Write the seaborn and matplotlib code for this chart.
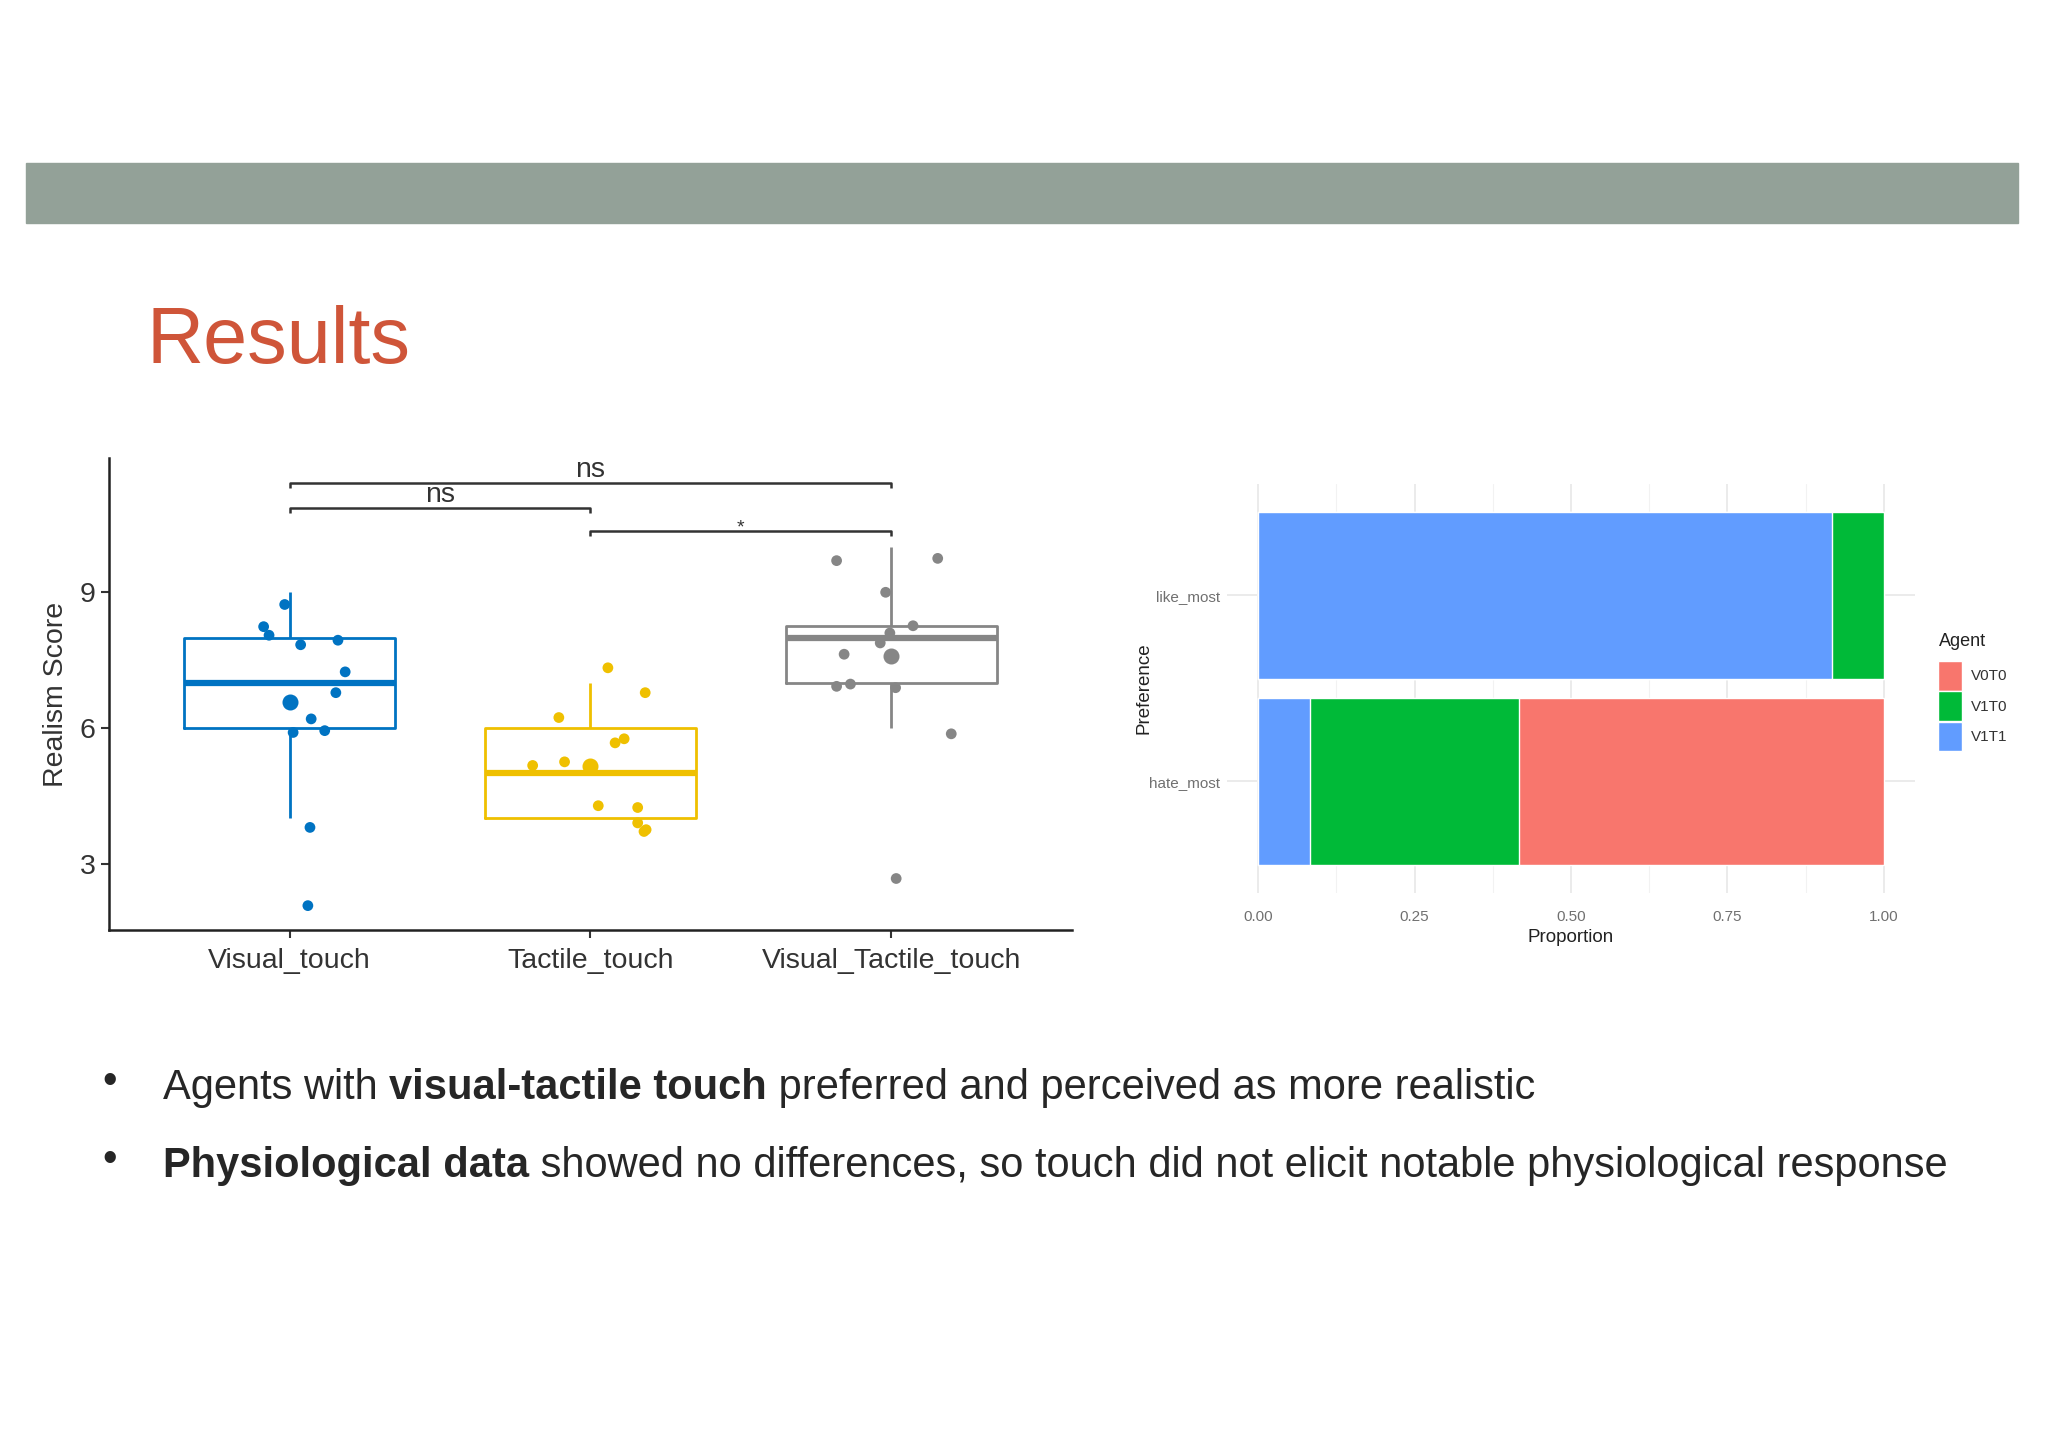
import numpy as np
import pandas as pd
import matplotlib
matplotlib.use("Agg")
import matplotlib.pyplot as plt
from matplotlib.patches import Rectangle, Patch
from matplotlib.text import Annotation
import seaborn as sns

# realism scores per condition (box + mean)
conditions = ["Visual_touch", "Tactile_touch", "Visual_Tactile_touch"]
visual_scores = [9, 8, 8, 8, 8, 7, 7, 6, 6, 6, 4, 2]
tactile_scores = [7, 7, 6, 6, 6, 5, 5, 4, 4, 4, 4, 4]
vt_scores = [10, 10, 9, 8, 8, 8, 8, 7, 7, 7, 6, 3]

# jittered points as drawn (x offset from category, y value)
visual_jit_x = [-0.016, -0.086, -0.068, 0.037, 0.161, 0.185, 0.154, 0.072, 0.012, 0.117, 0.068, 0.061]
visual_jit_y = [8.73, 8.24, 8.05, 7.84, 7.94, 7.24, 6.78, 6.20, 5.90, 5.94, 3.80, 2.07]
tactile_jit_x = [0.058, 0.182, -0.105, 0.082, 0.112, -0.192, -0.086, 0.026, 0.157, 0.157, 0.178, 0.185]
tactile_jit_y = [7.33, 6.78, 6.23, 5.67, 5.76, 5.17, 5.25, 4.28, 4.24, 3.90, 3.71, 3.75]
vt_jit_x = [-0.182, 0.154, -0.019, 0.072, -0.005, -0.037, -0.157, -0.182, -0.136, 0.014, 0.199, 0.016]
vt_jit_y = [9.70, 9.75, 9.00, 8.26, 8.10, 7.88, 7.63, 6.92, 6.97, 6.89, 5.87, 2.67]

# significance brackets
bracket_pairs = [(0, 2), (0, 1), (1, 2)]
bracket_y = [11.42, 10.87, 10.36]
bracket_labels = ["ns", "ns", "*"]

# preference counts
pref_levels = ["like_most", "hate_most"]
agents = ["V0T0", "V1T0", "V1T1"]
like_counts = [0, 1, 11]
hate_counts = [7, 4, 1]

jco = ["#0073C2", "#EFC000", "#868686"]
agent_colors = {"V0T0": "#F8766D", "V1T0": "#00BA38", "V1T1": "#619CFF"}

sns.set_style("white")
plt.rcParams["font.family"] = ["Liberation Sans", "DejaVu Sans"]

fig = plt.figure(figsize=(20.48, 14.48), dpi=100)

# slide header
fig.patches.append(Rectangle((0.0127, 0.846), 0.9727, 0.0414, transform=fig.transFigure,
                             color="#93A198", zorder=0))
fig.text(0.0715, 0.7493, "Results", fontsize=57, color="#CF5539", va="baseline", ha="left")

# ---- left: box plot ----
score_df = pd.DataFrame({
    "Condition": np.repeat(conditions, [len(visual_scores), len(tactile_scores), len(vt_scores)]),
    "Score": visual_scores + tactile_scores + vt_scores,
})
jit_df = pd.DataFrame({
    "Condition": np.repeat(conditions, [len(visual_jit_y), len(tactile_jit_y), len(vt_jit_y)]),
    "dx": visual_jit_x + tactile_jit_x + vt_jit_x,
    "y": visual_jit_y + tactile_jit_y + vt_jit_y,
})
jit_df["x"] = jit_df["Condition"].map({c: i for i, c in enumerate(conditions)}) + jit_df["dx"]

ax1 = fig.add_axes([0.0532, 0.3577, 0.4702, 0.326])
sns.boxplot(data=score_df, x="Condition", y="Score", hue="Condition", palette=jco,
            order=conditions, hue_order=conditions, fill=False, showfliers=False,
            width=0.7, linewidth=2, legend=False, ax=ax1,
            medianprops={"linewidth": 4.5}, capprops={"visible": False})
sns.scatterplot(data=jit_df, x="x", y="y", hue="Condition", palette=jco, hue_order=conditions,
                s=60, linewidth=0, legend=False, ax=ax1, zorder=3)
sns.pointplot(data=score_df, x="Condition", y="Score", hue="Condition", palette=jco,
              order=conditions, hue_order=conditions, estimator="mean", errorbar=None,
              linestyle="none", markers="o", markersize=9.5, legend=False, ax=ax1, zorder=4)

for (a, b), yb, lab in zip(bracket_pairs, bracket_y, bracket_labels):
    ax1.plot([a, a, b, b], [yb - 0.12, yb, yb, yb - 0.12], color="#333333", lw=1.8,
             solid_capstyle="butt", zorder=5)
    if lab == "*":
        ax1.annotate(lab, ((a + b) / 2, yb), xytext=(0, -1), textcoords="offset points",
                     ha="center", va="baseline", fontsize=14, color="#333333")
    else:
        ax1.annotate(lab, ((a + b) / 2, yb), xytext=(0, 4), textcoords="offset points",
                     ha="center", va="baseline", fontsize=20.5, color="#333333")

ax1.set_xlim(-0.6, 2.6)
ax1.set_ylim(1.53, 11.97)
ax1.set_yticks([3, 6, 9])
ax1.set_xlabel("")
ax1.set_ylabel("Realism Score", fontsize=20.5, color="#333333", labelpad=8)
ax1.tick_params(axis="both", labelsize=20.5, labelcolor="#333333", length=6, width=1.5,
                color="#333333", direction="out", left=True, bottom=True)
ax1.tick_params(axis="x", pad=7)
for side in ["top", "right"]:
    ax1.spines[side].set_visible(False)
for side in ["left", "bottom"]:
    ax1.spines[side].set_linewidth(1.8)
    ax1.spines[side].set_color("#222222")

# ---- right: stacked proportions ----
pref_df = pd.DataFrame({
    "Preference": np.repeat(pref_levels, len(agents)),
    "Agent": agents * len(pref_levels),
    "Count": like_counts + hate_counts,
})
pref_df["Proportion"] = pref_df["Count"] / pref_df.groupby("Preference")["Count"].transform("sum")
stack_order = ["V1T1", "V1T0", "V0T0"]  # left to right
wide = pref_df.pivot(index="Preference", columns="Agent", values="Proportion")[stack_order]
cum = wide.cumsum(axis=1).reset_index()

ax2 = fig.add_axes([0.5991, 0.3833, 0.336, 0.2825])
ax2.set_axisbelow(True)
for agent in reversed(stack_order):
    sns.barplot(data=cum, x=agent, y="Preference", order=pref_levels, orient="h",
                color=agent_colors[agent], width=0.9, saturation=1, ax=ax2, zorder=2)

ax2.set_xlim(-0.05, 1.05)
ax2.set_ylim(1.6, -0.6)
ax2.set_xticks([0, 0.25, 0.5, 0.75, 1.0])
ax2.set_xticks([0.125, 0.375, 0.625, 0.875], minor=True)
ax2.set_xticklabels(["0.00", "0.25", "0.50", "0.75", "1.00"])
ax2.grid(True, which="major", color="#EBEBEB", lw=1.4, zorder=0)
ax2.grid(True, which="minor", axis="x", color="#F2F2F2", lw=0.8, zorder=0)
ax2.tick_params(axis="both", which="both", length=0, labelsize=11, labelcolor="#707070")
ax2.tick_params(axis="x", pad=12)
ax2.tick_params(axis="y", pad=5)
for s in ax2.spines.values():
    s.set_visible(False)
ax2.set_xlabel("Proportion", fontsize=13.5, color="#222222", labelpad=4)
ax2.set_ylabel("Preference", fontsize=13.5, color="#222222")
ax2.yaxis.set_label_coords(-0.108, 0.5)

# legend: title as its own text so the gap above the keys matches
fig.text(0.9468, 0.5573, "Agent", fontsize=13, color="#222222", ha="left", va="center")
handles = [Patch(facecolor=agent_colors[a], edgecolor="white", linewidth=1) for a in agents]
leg = fig.legend(handles, agents, loc="upper left",
                 bbox_to_anchor=(0.9465, 0.5435), frameon=False,
                 fontsize=11, handlelength=1.55, handleheight=2.6,
                 labelspacing=0.05, handletextpad=0.55, borderpad=0, borderaxespad=0)
for t in leg.get_texts():
    t.set_color("#333333")

# ---- bullets ----
txt_color = "#262626"
lines = [
    [("Agents with ", "normal"), ("visual-tactile touch", "bold"),
     (" preferred and perceived as more realistic", "normal")],
    [("Physiological data", "bold"),
     (" showed no differences, so touch did not elicit notable physiological response", "normal")],
]
line_y = [0.2410, 0.1871]
for segs, yy in zip(lines, line_y):
    fig.text(0.0535, yy + 0.004, "\u2022", fontsize=30, color=txt_color, ha="center", va="baseline")
    prev = fig.text(0.0796, yy, segs[0][0], fontsize=30, fontweight=segs[0][1],
                    color=txt_color, ha="left", va="baseline")
    # chain the following segments onto the end of the previous one
    for seg, wt in segs[1:]:
        prev = fig.add_artist(Annotation(seg, xy=(1, 0), xycoords=prev, fontsize=30,
                                         fontweight=wt, color=txt_color,
                                         ha="left", va="bottom"))

fig.savefig("out.png", dpi=100, facecolor="white")
